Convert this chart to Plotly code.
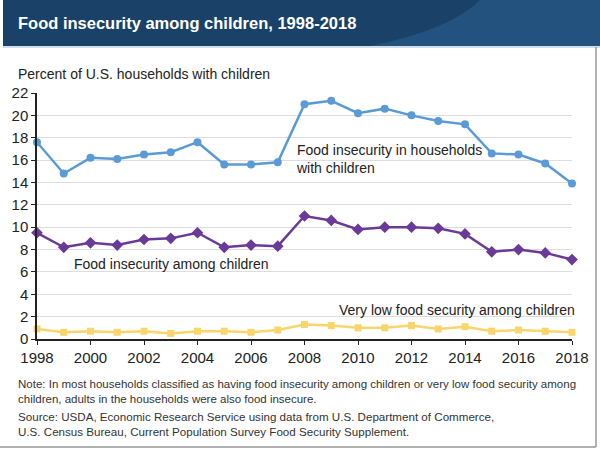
import plotly.graph_objects as go

# --- DATA ---
YEARS = list(range(1998, 2019))
HH_WITH_CHILDREN = [17.6, 14.8, 16.2, 16.1, 16.5, 16.7, 17.6, 15.6, 15.6, 15.8, 21.0,
                    21.3, 20.2, 20.6, 20.0, 19.5, 19.2, 16.6, 16.5, 15.7, 13.9]
AMONG_CHILDREN = [9.5, 8.2, 8.6, 8.4, 8.9, 9.0, 9.5, 8.2, 8.4, 8.3, 11.0,
                  10.6, 9.8, 10.0, 10.0, 9.9, 9.4, 7.8, 8.0, 7.7, 7.1]
VERY_LOW = [0.9, 0.6, 0.7, 0.6, 0.7, 0.5, 0.7, 0.7, 0.6, 0.8, 1.3,
            1.2, 1.0, 1.0, 1.2, 0.9, 1.1, 0.7, 0.8, 0.7, 0.6]
Y_TICKS = list(range(0, 23, 2))
X_TICKS = list(range(1998, 2019, 2))

FONT = "Liberation Sans, Arial, sans-serif"
W, H = 600, 450


def px(x):
    # pixel x -> paper coordinate
    return (x - 37) / 535


def py(y):
    # pixel y -> paper coordinate
    return (339 - y) / 246


fig = go.Figure()

fig.add_trace(go.Scatter(x=YEARS, y=HH_WITH_CHILDREN, mode="lines+markers", cliponaxis=False,
                         line=dict(color="#5b9bd5", width=2.5),
                         marker=dict(symbol="circle", size=8, color="#5b9bd5")))
fig.add_trace(go.Scatter(x=YEARS, y=AMONG_CHILDREN, mode="lines+markers", cliponaxis=False,
                         line=dict(color="#6a3a98", width=2.5),
                         marker=dict(symbol="diamond", size=9, color="#6a3a98")))
fig.add_trace(go.Scatter(x=YEARS, y=VERY_LOW, mode="lines+markers", cliponaxis=False,
                         line=dict(color="#f8d66b", width=2.5),
                         marker=dict(symbol="square", size=7, color="#f8d66b")))

# header band + frame
shapes = [
    dict(type="rect", xref="paper", yref="paper", x0=px(3), x1=px(600),
         y0=py(46), y1=py(0), fillcolor="#1a4268", line_width=0, layer="below"),
    dict(type="path", xref="paper", yref="paper", layer="below", line_width=0, fillcolor="#24527f",
         path="M %f %f Q %f %f %f %f L %f %f L %f %f Z" % (
             px(370), py(46), px(450), py(30), px(480), py(0),
             px(600), py(0), px(600), py(46))),
    dict(type="line", xref="paper", yref="paper", x0=px(3), x1=px(600),
         y0=py(47), y1=py(47), line=dict(color="#9fbdd8", width=1)),
    dict(type="line", xref="paper", yref="paper", x0=px(596), x1=px(596),
         y0=py(47), y1=py(447), line=dict(color="#999999", width=1.5)),
    dict(type="line", xref="paper", yref="paper", x0=px(0), x1=px(596),
         y0=py(447), y1=py(447), line=dict(color="#999999", width=1.5)),
]

annotations = [
    dict(text="<b>Food insecurity among children, 1998-2018</b>", x=px(16), y=py(23),
         font=dict(size=16.5, color="white")),
    dict(text="Percent of U.S. households with children", x=px(16), y=py(74),
         font=dict(size=14, color="#222222")),
    dict(text="Food insecurity in households<br>with children", x=px(294), y=py(159),
         font=dict(size=14, color="#222222")),
    dict(text="Food insecurity among children", x=px(72), y=py(264),
         font=dict(size=14, color="#222222")),
    dict(text="Very low food security among children", x=px(577), y=py(310), xanchor="right",
         font=dict(size=14, color="#222222")),
    dict(text="Note: In most households classified as having food insecurity among children or very low food security among<br>"
              "children, adults in the households were also food insecure.", x=px(16), y=py(391),
         font=dict(size=11.5, color="#333333")),
    dict(text="Source: USDA, Economic Research Service using data from U.S. Department of Commerce,<br>"
              "U.S. Census Bureau, Current Population Survey Food Security Supplement.", x=px(16), y=py(424),
         font=dict(size=11.6, color="#333333")),
]
for a in annotations:
    a.update(xref="paper", yref="paper", showarrow=False, align="left")
    a.setdefault("xanchor", "left")
    a["yanchor"] = "middle"

fig.update_layout(
    width=W, height=H, showlegend=False,
    margin=dict(l=37, r=28, t=93, b=111),
    paper_bgcolor="white", plot_bgcolor="white",
    font=dict(family=FONT, size=14, color="#222222"),
    shapes=shapes, annotations=annotations,
    xaxis=dict(range=[1998, 2018], tickvals=X_TICKS, showgrid=False, zeroline=False,
               showline=True, linecolor="#222222", linewidth=1.5,
               ticks="outside", ticklen=4, tickcolor="#222222",
               tickfont=dict(size=15, color="#222222")),
    yaxis=dict(range=[0, 22], tickvals=Y_TICKS, showgrid=True, gridcolor="#dddddd", gridwidth=1,
               zeroline=False, showline=True, linecolor="#222222", linewidth=1.5,
               ticks="outside", ticklen=4, tickcolor="#222222",
               tickfont=dict(size=15, color="#222222")),
)

fig.write_html("out.html", config={"displayModeBar": False},
               post_script="document.body.style.margin='0';")
